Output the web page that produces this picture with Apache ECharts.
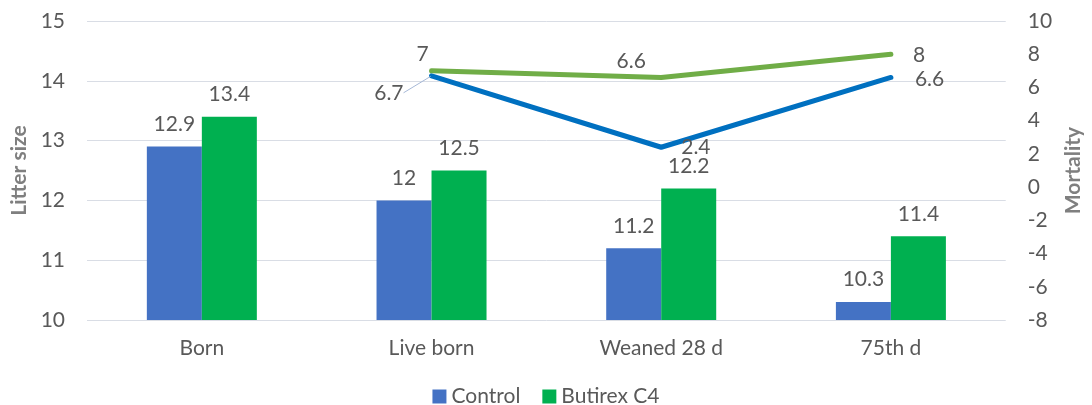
<!DOCTYPE html>
<html>
<head>
<meta charset="utf-8">
<script src="https://cdn.jsdelivr.net/npm/echarts@6/dist/echarts.min.js"></script>
<style>
  html, body { margin: 0; padding: 0; background: #fff; }
  #chart { width: 1092px; height: 405px; }
</style>
</head>
<body>
<div id="chart"></div>
<script>
var categories = ['Born', 'Live born', 'Weaned 28 d', '75th d'];
var controlLitter = [12.9, 12, 11.2, 10.3];
var butirexLitter = [13.4, 12.5, 12.2, 11.4];
var controlMortality = [null, 6.7, 2.4, 6.6];
var butirexMortality = [null, 7, 6.6, 8];

var FONT = 'Lato, "Open Sans", sans-serif';
var TXT = '#595959';
var FS = 21;

var chart = echarts.init(document.getElementById('chart'));

// label spots for the mortality lines, tuned by eye
var blueLabels = [
  null,
  { position: 'left' },
  { position: 'right' },
  { position: 'right' }
];
// labelLayout wins over offset on the blue series, so shift there
var blueShift = [null, { dx: -22, dy: 17 }, { dx: 14, dy: 0 }, { dx: 18, dy: 2 }];
var greenLabels = [
  null,
  { position: 'top', offset: [-9, 0] },
  { position: 'top', offset: [-30, 0] },
  { position: 'right', offset: [16, 1] }
];

function withLabels(vals, spots, leaderAt) {
  return vals.map(function (v, i) {
    if (v == null) return null;
    return { value: v, label: spots[i], labelLine: { show: i === leaderAt } };
  });
}

var option = {
  textStyle: { fontFamily: FONT },
  animation: false,
  grid: { left: 87, right: 84, top: 21, bottom: 85 },
  legend: {
    top: 381,
    itemWidth: 14, itemHeight: 14,
    itemGap: 22,
    icon: 'rect',
    data: ['Control', 'Butirex C4'],
    textStyle: { color: TXT, fontSize: FS, fontFamily: FONT }
  },
  xAxis: {
    type: 'category',
    data: categories,
    axisLine: { show: false },
    axisTick: { show: false },
    axisLabel: { color: TXT, fontSize: FS, margin: 18 }
  },
  yAxis: [{
    type: 'value',
    min: 10, max: 15, interval: 1,
    name: 'Litter size',
    nameLocation: 'middle',
    nameRotate: 90,
    nameGap: 50,
    nameTextStyle: { color: '#7f7f7f', fontSize: FS, fontWeight: 'bold' },
    axisLabel: { color: TXT, fontSize: FS, margin: 22 },
    splitLine: { lineStyle: { color: '#d9dde5', width: 1 } }
  }, {
    type: 'value',
    min: -8, max: 10, interval: 2,
    name: 'Mortality',
    nameLocation: 'middle',
    nameRotate: 90,
    nameGap: 53,
    nameTextStyle: { color: '#7f7f7f', fontSize: FS, fontWeight: 'bold' },
    axisLabel: { color: TXT, fontSize: FS, margin: 22 },
    splitLine: { show: false }
  }],
  series: [{
    name: 'Control',
    type: 'bar',
    data: controlLitter,
    barWidth: 55,
    barGap: '0%',
    itemStyle: { color: '#4472c4' },
    label: { show: true, position: 'top', distance: 12, color: TXT, fontSize: FS }
  }, {
    name: 'Butirex C4',
    type: 'bar',
    data: butirexLitter,
    barWidth: 55,
    barGap: '0%',
    itemStyle: { color: '#00b050' },
    label: { show: true, position: 'top', distance: 12, color: TXT, fontSize: FS }
  }, {
    name: 'Control mortality',
    type: 'line',
    yAxisIndex: 1,
    data: withLabels(controlMortality, blueLabels, 1),
    symbol: 'circle',
    symbolSize: 2,
    lineStyle: { color: '#0070c0', width: 5, cap: 'round', join: 'round' },
    itemStyle: { color: '#0070c0' },
    label: { show: true, color: TXT, fontSize: FS },
    labelLine: { lineStyle: { color: '#a6b8d6', width: 1 } },
    labelLayout: function (p) {
      return blueShift[p.dataIndex] || {};
    },
    z: 3
  }, {
    name: 'Butirex mortality',
    type: 'line',
    yAxisIndex: 1,
    data: withLabels(butirexMortality, greenLabels, -1),
    symbol: 'circle',
    symbolSize: 2,
    lineStyle: { color: '#70ad47', width: 5, cap: 'round', join: 'round' },
    itemStyle: { color: '#70ad47' },
    label: { show: true, color: TXT, fontSize: FS },
    z: 4
  }]
};

chart.setOption(option);
</script>
</body>
</html>
